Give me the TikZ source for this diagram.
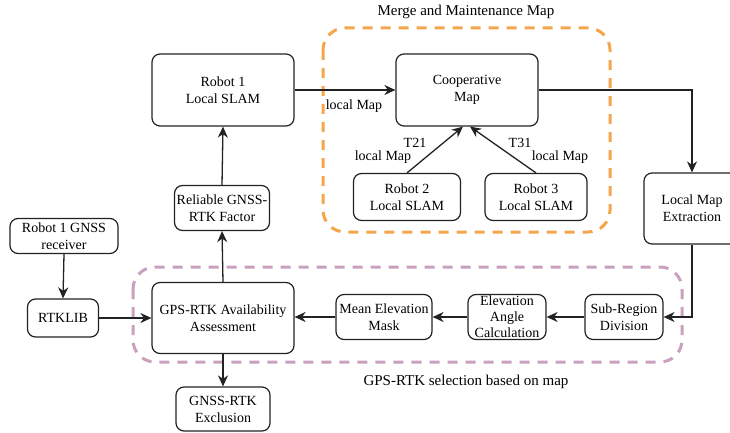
\documentclass[tikz,border=0pt]{standalone}
\usepackage{fontspec}
\setmainfont{Liberation Serif}
\usetikzlibrary{arrows.meta}
\definecolor{orangedash}{HTML}{F5A54A}
\definecolor{purpledash}{HTML}{C9A0BE}
\definecolor{linec}{HTML}{222222}
\tikzset{
  box/.style={draw=linec, line width=1.2pt, rounded corners=8pt, align=center, inner sep=1pt,
    font=\fontsize{14}{17}\selectfont},
  arr/.style={draw=linec, line width=1.3pt, -{Stealth[length=11pt,width=10pt,inset=3.5pt]}},
  lbl/.style={font=\fontsize{14}{15}\selectfont, inner sep=0pt},
  grp/.style={dashed, line width=3pt, dash pattern=on 10pt off 8pt, rounded corners=22pt},
}
\begin{document}
\begin{tikzpicture}[x=1pt,y=-1pt]
\useasboundingbox (0,0) rectangle (730,433);
% groups
\draw[grp, draw=orangedash] (323,28) rectangle (610,232);
\draw[grp, draw=purpledash] (133,267) rectangle (682,362);
\node[lbl, font=\fontsize{15}{17}\selectfont] (tmerge) at (466,12) {Merge and Maintenance Map};
\node[lbl, font=\fontsize{15}{17}\selectfont] (tsel) at (466,382) {GPS-RTK selection based on map};
% nodes
\node[box, minimum width=142pt, minimum height=72pt] (r1) at (223,90) {Robot 1\\Local SLAM};
\node[box, minimum width=142pt, minimum height=72pt] (coop) at (467,90) {Cooperative\\Map};
\node[box, minimum width=107pt, minimum height=47pt] (r2) at (407,197) {Robot 2\\Local SLAM};
\node[box, minimum width=102pt, minimum height=47pt] (r3) at (536,197) {Robot 3\\Local SLAM};
\node[box, minimum width=95pt, minimum height=45pt] (rel) at (222,208) {Reliable GNSS-\\RTK Factor};
\node[box, minimum width=108pt, minimum height=35pt] (gnss) at (64,236) {Robot 1 GNSS\\receiver};
\node[box, minimum width=71pt, minimum height=38pt] (rtk) at (63,318) {RTKLIB};
\node[box, minimum width=142pt, minimum height=71pt] (avail) at (223,318) {GPS-RTK Availability\\Assessment};
\node[box, minimum width=94pt, minimum height=44pt] (excl) at (223,409) {GNSS-RTK\\Exclusion};
\node[box, minimum width=96pt, minimum height=45pt] (mean) at (384,317) {Mean Elevation\\Mask};
\node[box, minimum width=78pt, minimum height=45pt] (elev) at (507,317) {};
\node[lbl, align=center, font=\fontsize{14}{16}\selectfont] (elevt) at (elev.center) {Elevation\\Angle\\Calculation};
\node[box, minimum width=78pt, minimum height=45pt] (sub) at (624,317) {Sub-Region\\Division};
\node[box, minimum width=96pt, minimum height=71pt] (lme) at (692,208.5) {Local Map\\Extraction};
% connectors
\draw[arr] (r1.east) -- (coop.west);
\node[lbl] (lm1) at (354,106) {local Map};
\draw[arr] (r2.north) -- ([xshift=-4pt]coop.south);
\draw[arr] (r3.north) -- ([xshift=3pt]coop.south);
\node[lbl] (t21) at (415,143) {T21};
\node[lbl] (lm2) at (383,157) {local Map};
\node[lbl] (t31) at (520,143) {T31};
\node[lbl] (lm3) at (560,157) {local Map};
\draw[arr] (coop.east) -| (lme.north);
\draw[arr] (lme.south) |- (sub.east);
\draw[arr] (sub.west) -- (elev.east);
\draw[arr] (elev.west) -- (mean.east);
\draw[arr] (mean.west) -- (avail.east |- mean.west);
\draw[arr] (rtk.east) -- (avail.west);
\draw[arr] (gnss.south) -- (rtk.north);
\draw[arr] (avail.north) -- (rel.south);
\draw[arr] (rel.north) -- (r1.south);
\draw[arr] (avail.south) -- (excl.north);
\end{tikzpicture}
\end{document}
